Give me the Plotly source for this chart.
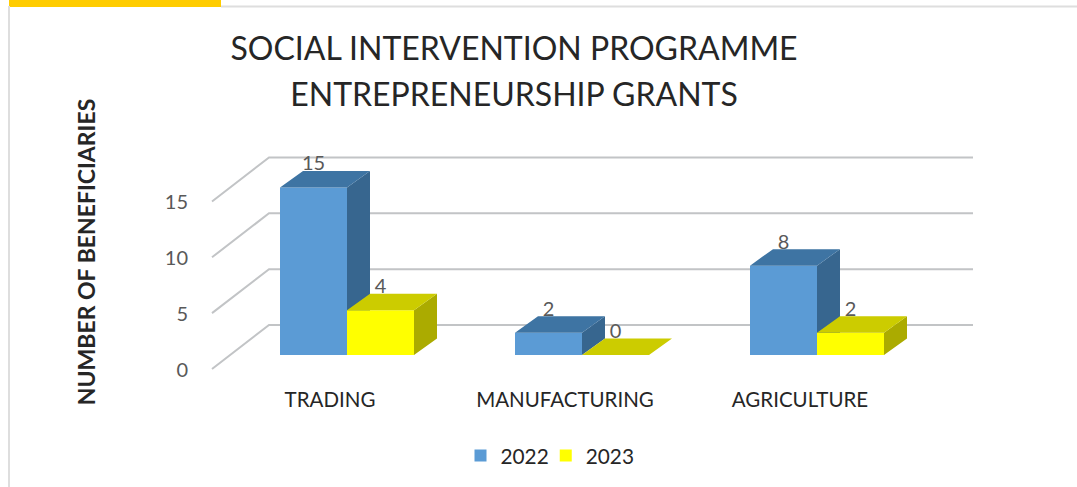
import plotly.graph_objects as go

categories = ["TRADING", "MANUFACTURING", "AGRICULTURE"]
years = ["2022", "2023"]
values_2022 = [15, 2, 8]
values_2023 = [4, 0, 2]
y_ticks = [0, 5, 10, 15]
title_lines = ["SOCIAL INTERVENTION PROGRAMME", "ENTREPRENEURSHIP GRANTS"]
y_title = "NUMBER OF BENEFICIARIES"

W, H = 1077, 487
TOP = 17            # top of the y axis domain, so that its title centres at y = 252
FONT = "Lato"
PX_X = 235.0        # px per category
PX_Y = 11.17        # px per value unit
BAR_W = 67 / PX_X
DX = 23 / PX_X      # bar depth
DY = 16.5 / PX_Y
X0_BAR, Y0_BAR = 347, 355    # pixel position of category 0 / value 0 for the bars
X0_TICK, Y0_TICK = 330, 370  # pixel position of category 0 / value 0 for the axes


def xr(x0):
    return [-x0 / PX_X, (W - x0) / PX_X]


def yr(y0):
    return [(y0 - H) / PX_Y, (y0 - TOP) / PX_Y]


def box_faces(values, left):
    tops_x, tops_y, sides_x, sides_y = [], [], [], []
    for i, v in enumerate(values):
        l = i + left
        r = l + BAR_W
        tops_x += [l, r, r + DX, l + DX, l, None]
        tops_y += [v, v, v + DY, v + DY, v, None]
        if v > 0:
            sides_x += [r, r + DX, r + DX, r, r, None]
            sides_y += [0, DY, v + DY, v, 0, None]
    return tops_x, tops_y, sides_x, sides_y


def poly(x, y, color, xa, ya):
    return go.Scatter(x=x, y=y, xaxis=xa, yaxis=ya, mode="lines", fill="toself",
                      fillcolor=color, line=dict(width=0, color=color),
                      hoverinfo="skip", showlegend=False)


fig = go.Figure()

# floor / wall grid, in the coordinates of the tick axis
gx, gy = [], []
left_front = (212 - X0_TICK) / PX_X
left_back = (269 - X0_TICK) / PX_X
right_back = (973 - X0_TICK) / PX_X
front = (Y0_TICK - 369) / PX_Y
wall = (Y0_TICK - 325) / PX_Y
for t in y_ticks:
    gx += [left_front, left_back, right_back, None]
    gy += [t + front, t + wall, t + wall, None]
fig.add_trace(go.Scatter(x=gx, y=gy, mode="lines", line=dict(color="#c2c4c6", width=2),
                         hoverinfo="skip", showlegend=False))

series = [
    (years[0], values_2022, -BAR_W, "#5B9BD5", "#3E74A3", "#37668F", "x2", "y2"),
    (years[1], values_2023, 0.0, "#FFFF00", "#CCCC00", "#ABAB00", "x3", "y3"),
]
for name, vals, off, fc, top, side, xa, ya in series:
    fig.add_trace(go.Bar(x=[0, 1, 2], y=vals, name=name, width=BAR_W, offset=off,
                         marker=dict(color=fc, line=dict(width=0)),
                         xaxis=xa, yaxis=ya))
    tx, ty, sx, sy = box_faces(vals, off)
    fig.add_trace(poly(sx, sy, side, xa, ya))
    fig.add_trace(poly(tx, ty, top, xa, ya))

# data labels, drawn last
lx, ly, lt = [], [], []
for vals, off in ((values_2022, -BAR_W), (values_2023, 0.0)):
    for i, v in enumerate(vals):
        lx.append(i + off + BAR_W / 2)
        ly.append(v + 22 / PX_Y)
        lt.append(str(v))
fig.add_trace(go.Scatter(x=lx, y=ly, text=lt, mode="text", textposition="middle center",
                         textfont=dict(family=FONT, size=20, color="#595959"),
                         xaxis="x3", yaxis="y3", hoverinfo="skip", showlegend=False))

title_text = "<br>".join('<span style="font-size:32px">%s</span>' % s for s in title_lines)
hidden = dict(visible=False, showgrid=False, zeroline=False)
fig.update_layout(
    width=W, height=H, autosize=False,
    margin=dict(l=0, r=0, t=0, b=0),
    paper_bgcolor="white", plot_bgcolor="rgba(0,0,0,0)",
    font=dict(family=FONT, color="#262626"),
    title=dict(text=title_text, x=514 / W, xanchor="center", xref="paper",
               y=1 - 60 / H, yanchor="top", yref="container",
               font=dict(family=FONT, size=35.4, color="#262626")),
    xaxis=dict(range=xr(X0_TICK), tickmode="array", tickvals=[0, 1, 2], ticktext=categories,
               anchor="free", position=1 - 375 / H, showgrid=False, zeroline=False,
               showline=False, ticks="outside", ticklen=6, tickcolor="rgba(0,0,0,0)",
               tickfont=dict(family=FONT, size=20.5, color="#262626")),
    yaxis=dict(range=yr(Y0_TICK), domain=[0, 1 - TOP / H], tickmode="array", tickvals=y_ticks,
               anchor="free", position=212 / W, side="left", showgrid=False, zeroline=False,
               showline=False, ticks="outside", ticklen=20, tickcolor="rgba(0,0,0,0)",
               tickfont=dict(family=FONT, size=20, color="#595959"),
               title=dict(text="<b>" + y_title + "</b>", standoff=61,
                          font=dict(family=FONT, size=23, color="#262626"))),
    xaxis2=dict(range=xr(X0_BAR), overlaying="x", **hidden),
    yaxis2=dict(range=yr(Y0_BAR), overlaying="y", **hidden),
    xaxis3=dict(range=xr(X0_BAR), overlaying="x", **hidden),
    yaxis3=dict(range=yr(Y0_BAR), overlaying="y", **hidden),
    showlegend=True,
    legend=dict(orientation="h", x=554 / W, xanchor="center", y=1 - 456 / H, yanchor="middle",
                indentation=-8,
                font=dict(family=FONT, size=20.8, color="#262626"), bgcolor="rgba(0,0,0,0)"),
    shapes=[
        dict(type="rect", xref="paper", yref="paper", x0=9 / W, x1=221 / W, y0=1 - 7 / H, y1=1,
             fillcolor="#FFCC00", line=dict(width=0)),
        dict(type="line", xref="paper", yref="paper", x0=221 / W, x1=1, y0=1 - 6.5 / H, y1=1 - 6.5 / H,
             line=dict(color="#dedede", width=2)),
        dict(type="line", xref="paper", yref="paper", x0=9 / W, x1=9 / W, y0=0, y1=1 - 6 / H,
             line=dict(color="#dedede", width=2)),
    ],
)

fig.write_html("out.html", config={"displayModeBar": False},
               post_script="document.body.style.margin='0';document.documentElement.style.overflow='hidden';window.dispatchEvent(new Event('resize'));")
